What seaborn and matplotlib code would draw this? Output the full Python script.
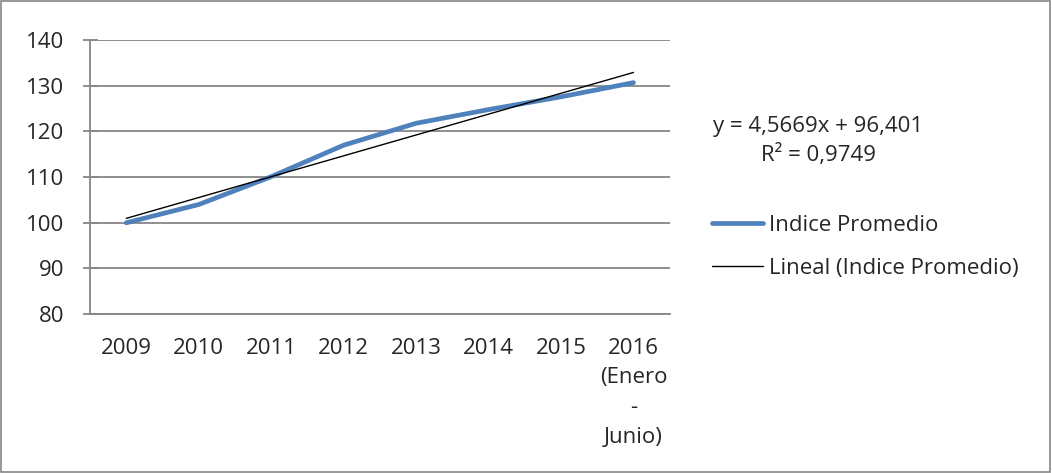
import numpy as np
import pandas as pd
import seaborn as sns
import matplotlib.pyplot as plt
from matplotlib.patches import Rectangle

years = ['2009', '2010', '2011', '2012', '2013', '2014', '2015', '2016\n(Enero\n-\nJunio)']
indice = [100.0, 104.0, 110.1, 117.0, 121.8, 124.8, 127.6, 130.7]
slope, intercept = 4.5669, 96.401
r2 = 0.9749

df = pd.DataFrame({'pos': np.arange(len(years)), 'indice': indice})
df['lineal'] = slope * (df['pos'] + 1) + intercept

sns.set_style('white')
plt.rcParams['font.family'] = ['Open Sans', 'DejaVu Sans']
fs = 16

fig = plt.figure(figsize=(10.52, 4.73), dpi=100)
ax = fig.add_axes([0.0856, 0.336, 0.551, 0.579])

grey = '#868686'
sns.lineplot(data=df, x='pos', y='indice', ax=ax, color='#4F81BD', linewidth=3.4,
             solid_capstyle='round', label='Indice Promedio')
sns.lineplot(data=df, x='pos', y='lineal', ax=ax, color='black', linewidth=1.0,
             label='Lineal (Indice Promedio)')

ax.set_xlim(-0.5, len(years) - 0.5)
ax.set_ylim(80, 140)
ax.set_yticks(range(80, 141, 10))
ax.yaxis.grid(True, color=grey, linewidth=1.3)
ax.set_xticks(df['pos'])
ax.set_xticklabels(years, linespacing=1.55, va='top')
ax.set_xticks(np.arange(-0.5, len(years)), minor=True)
ax.tick_params(axis='x', which='major', length=0, pad=17, labelsize=fs)
ax.tick_params(axis='x', which='minor', length=6, width=1.3, color=grey, direction='out')
ax.tick_params(axis='y', length=10.8, width=1.3, color=grey, direction='inout', labelsize=fs, pad=13)
ax.tick_params(left=True, bottom=True)
ax.set_xlabel('')
ax.set_ylabel('')
for side in ['top', 'right']:
    ax.spines[side].set_visible(False)
for side in ['left', 'bottom']:
    ax.spines[side].set_color(grey)
    ax.spines[side].set_linewidth(1.3)

eq = 'y = {}x + {}\nR² = {}'.format(str(slope).replace('.', ','), str(intercept).replace('.', ','),
                                    str(r2).replace('.', ','))
fig.text(0.7776, 0.702, eq, fontsize=fs, ha='center', va='center', multialignment='center',
         linespacing=1.45)

ax.legend(loc='upper left', bbox_to_anchor=(0.668, 0.565), bbox_transform=fig.transFigure,
          frameon=False, fontsize=fs, handlelength=2.3, handletextpad=0.27, labelspacing=1.0,
          borderaxespad=0)

fig.add_artist(Rectangle((0.001, 0.002), 0.997, 0.995, transform=fig.transFigure,
                         fill=False, edgecolor=grey, linewidth=1.2))

fig.savefig('out.png', dpi=100)
